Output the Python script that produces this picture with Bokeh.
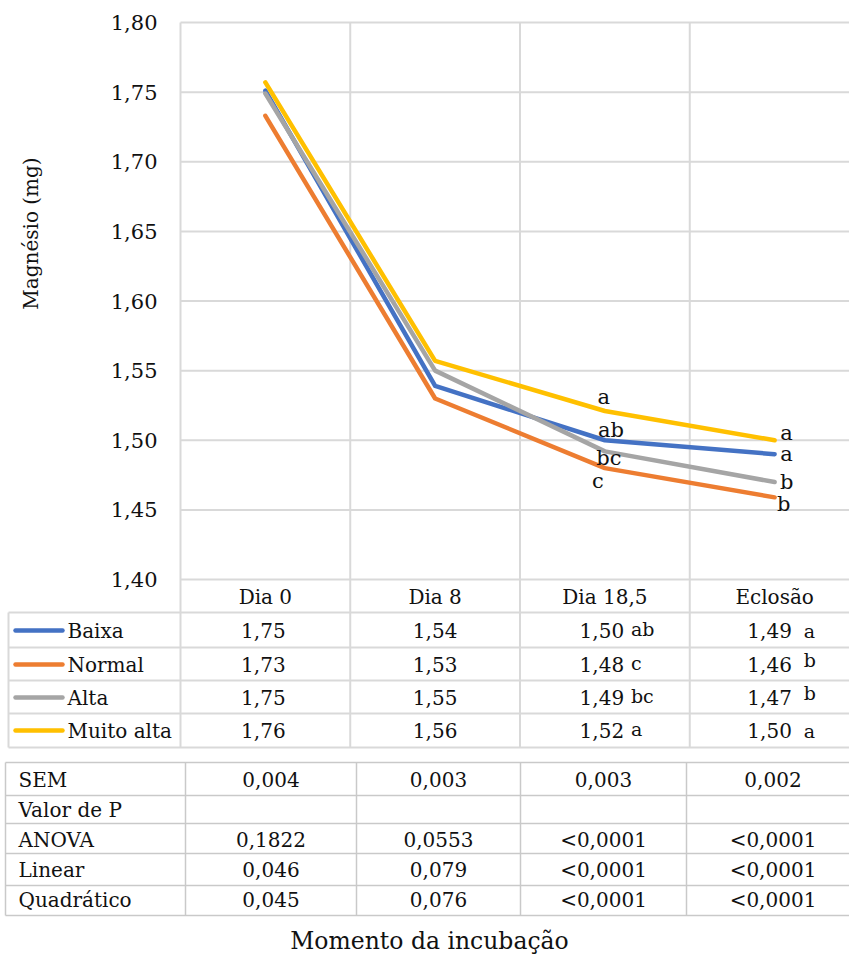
import math
from bokeh.plotting import figure
from bokeh.models import Range1d
from bokeh.core.properties import value
from bokeh.embed import file_html
from bokeh.resources import INLINE

# ---------------- data ----------------
moments = ["Dia 0", "Dia 8", "Dia 18,5", "Eclosão"]
series_names = ["Baixa", "Normal", "Alta", "Muito alta"]
baixa = [1.751, 1.539, 1.500, 1.490]
normal = [1.733, 1.530, 1.480, 1.459]
alta = [1.749, 1.550, 1.492, 1.470]
muito_alta = [1.757, 1.557, 1.521, 1.500]
letters_dia185 = ["ab", "c", "bc", "a"]   # Baixa, Normal, Alta, Muito alta
letters_eclosao = ["a", "b", "b", "a"]
y_ticks = [1.40, 1.45, 1.50, 1.55, 1.60, 1.65, 1.70, 1.75, 1.80]

stat_labels = ["SEM", "Valor de P", "ANOVA", "Linear", "Quadrático"]
sem = ["0,004", "0,003", "0,003", "0,002"]
valor_p = ["", "", "", ""]
anova = ["0,1822", "0,0553", "<0,0001", "<0,0001"]
linear = ["0,046", "0,079", "<0,0001", "<0,0001"]
quadratico = ["0,045", "0,076", "<0,0001", "<0,0001"]

series = [baixa, normal, alta, muito_alta]
colors = ["#4472C4", "#ED7D31", "#A5A5A5", "#FFC000"]

# ---------------- layout constants (page pixels) ----------------
W, H = 849, 955
X0, CATW = 180.0, 169.75
Y140, Y180 = 579.0, 22.0
PX_PER_UNIT = (Y140 - Y180) / 0.40
FONT = value("DejaVu Serif")
TS = "20px"     # table text size
TXT = "#111111"
GRID = "#D9D9D9"

p = figure(width=W, height=H, x_range=Range1d(0, W), y_range=Range1d(H, 0),
           x_axis_type=None, y_axis_type=None, output_backend="svg",
           toolbar_location=None, min_border=0)
p.outline_line_color = None
p.background_fill_color = "white"
p.extra_x_ranges = {"cat": Range1d((0 - X0) / CATW, (W - X0) / CATW)}
p.extra_y_ranges = {"mg": Range1d(1.40 - (H - Y140) / PX_PER_UNIT,
                                  1.80 + Y180 / PX_PER_UNIT)}

ncat = len(moments)
cat_end = (W - X0) / CATW

# horizontal grid lines at the y ticks
p.segment(x0=[0] * len(y_ticks), x1=[cat_end] * len(y_ticks), y0=y_ticks, y1=y_ticks,
          x_range_name="cat", y_range_name="mg", line_color=GRID, line_width=2)

# data table grid
row_edges = [612, 647, 680, 713, 747]
row_centers = [596, 630, 664, 697, 730]
p.segment(x0=list(range(ncat)), x1=list(range(ncat)), y0=[Y180] * ncat, y1=[747] * ncat,
          x_range_name="cat", line_color=GRID, line_width=2)
p.segment(x0=[8] * len(row_edges), x1=[W] * len(row_edges), y0=row_edges, y1=row_edges,
          line_color=GRID, line_width=2)
p.segment(x0=[8], x1=[8], y0=[612], y1=[747], line_color=GRID, line_width=2)

# series lines
xs = [i + 0.5 for i in range(ncat)]
for vals, col in zip(series, colors):
    p.line(x=xs, y=vals, x_range_name="cat", y_range_name="mg", line_color=col,
           line_width=4.5, line_cap="round", line_join="round")

# significance letters next to the points
lab_off_185 = [(6, -10), (-7, 13), (4, 7), (-1, -14)]
lab_off_ecl = [(12, 0), (9, 7), (12, 0), (12, -7)]
for k, vals in enumerate(series):
    p.text(x=[2.5], y=[vals[2]], text=[letters_dia185[k]], x_range_name="cat", y_range_name="mg",
           x_offset=lab_off_185[k][0], y_offset=lab_off_185[k][1],
           text_font=FONT, text_font_size="21px", text_color=TXT,
           text_align="center", text_baseline="middle")
    p.text(x=[3.5], y=[vals[3]], text=[letters_eclosao[k]], x_range_name="cat", y_range_name="mg",
           x_offset=lab_off_ecl[k][0], y_offset=lab_off_ecl[k][1],
           text_font=FONT, text_font_size="21px", text_color=TXT,
           text_align="center", text_baseline="middle")

# y tick labels and axis title
p.text(x=[157] * len(y_ticks), y=y_ticks, text=[f"{t:.2f}".replace(".", ",") for t in y_ticks],
       y_range_name="mg", text_font=FONT, text_font_size="21px", text_color=TXT,
       text_align="right", text_baseline="middle")
p.text(x=[30], y=[233], text=["Magnésio (mg)"], angle=math.pi / 2,
       text_font=FONT, text_font_size="20px", text_color=TXT,
       text_align="center", text_baseline="middle")

# header row
p.text(x=xs, y=[row_centers[0]] * ncat, text=moments, x_range_name="cat",
       text_font=FONT, text_font_size=TS, text_color=TXT,
       text_align="center", text_baseline="middle")

# legend rows and values
for k, (name, vals, col) in enumerate(zip(series_names, series, colors)):
    yc = row_centers[k + 1]
    p.segment(x0=[15], x1=[62], y0=[yc], y1=[yc], line_color=col, line_width=4.5, line_cap="round")
    p.text(x=[67], y=[yc], text=[name], text_font=FONT, text_font_size=TS, text_color=TXT,
           text_align="left", text_baseline="middle")
    fmt = [f"{v:.2f}".replace(".", ",") for v in vals]
    p.text(x=xs, y=[yc] * ncat, text=fmt, x_range_name="cat", x_offset=[-2, 0, -3, -5],
           text_font=FONT, text_font_size=TS, text_color=TXT,
           text_align="center", text_baseline="middle")
    p.text(x=[2.5], y=[yc], text=[letters_dia185[k]], x_range_name="cat", x_offset=26,
           y_offset=-2, text_font=FONT, text_font_size="19px", text_color=TXT,
           text_align="left", text_baseline="middle")
    p.text(x=[3.5], y=[yc], text=[letters_eclosao[k]], x_range_name="cat", x_offset=29,
           y_offset=(-5 if letters_eclosao[k] == "b" else 0),
           text_font=FONT, text_font_size="19px", text_color=TXT,
           text_align="left", text_baseline="middle")

# statistics table
bx = [5, 185, 356, 520, 686, 859]
by = [762, 795, 823, 853, 885, 915]
b_centers = [779, 809, 839, 869, 899]
BGRID = "#C9C9C9"
p.segment(x0=[5] * len(by), x1=[W] * len(by), y0=by, y1=by, line_color=BGRID, line_width=1.5)
p.segment(x0=bx, x1=bx, y0=[762] * len(bx), y1=[915] * len(bx), line_color=BGRID, line_width=1.5)
val_centers = [(bx[i + 1] + bx[i + 2]) / 2 for i in range(ncat)]
for lab, row, yc in zip(stat_labels, [sem, valor_p, anova, linear, quadratico], b_centers):
    p.text(x=[18], y=[yc], text=[lab], text_font=FONT, text_font_size=TS, text_color=TXT,
           text_align="left", text_baseline="middle")
    p.text(x=val_centers, y=[yc] * ncat, text=row, text_font=FONT, text_font_size=TS,
           text_color=TXT, text_align="center", text_baseline="middle")

# x axis title
p.text(x=[429], y=[940], text=["Momento da incubação"], text_font=FONT, text_font_size="23.5px",
       text_color=TXT, text_align="center", text_baseline="middle")

open("out.html", "w").write(file_html(p, INLINE))
